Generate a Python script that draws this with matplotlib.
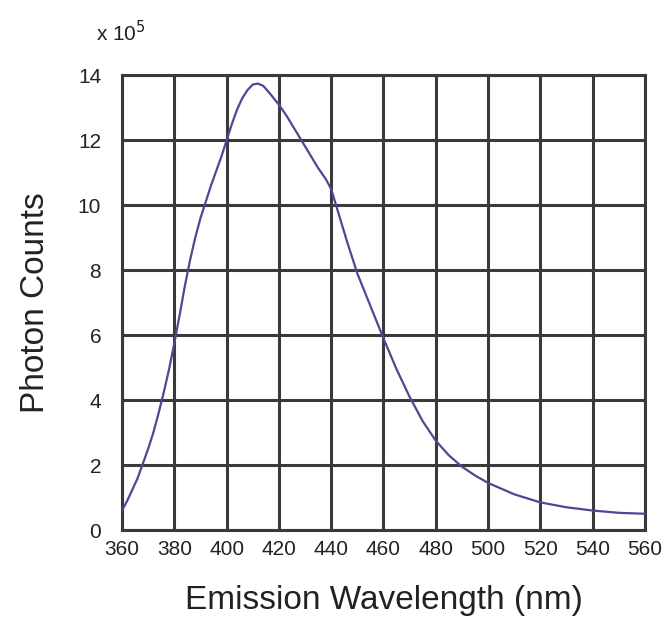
import matplotlib
matplotlib.use("Agg")
import matplotlib.pyplot as plt
import numpy as np

plt.rcParams['font.family'] = ['Liberation Sans', 'DejaVu Sans']

wavelength = [360, 362, 364, 366, 368, 370, 372, 374, 376, 378, 380, 382, 384, 386, 388, 390, 392, 394,
              396, 398, 400, 402, 404, 406, 408, 410, 412, 414, 416, 418, 420, 423, 426, 429, 432,
              435, 438, 440, 443, 446, 450, 455, 460, 465, 470, 475, 480, 485, 490,
              495, 500, 510, 520, 530, 540, 550, 560]
counts = [0.6, 0.9, 1.25, 1.6, 2.05, 2.5, 3.0, 3.6, 4.25, 4.95, 5.75, 6.6, 7.5, 8.3, 9.0, 9.6, 10.1, 10.6,
          11.05, 11.5, 12.0, 12.5, 12.95, 13.3, 13.55, 13.72, 13.75, 13.68, 13.5, 13.3, 13.1, 12.75, 12.35, 11.95, 11.55,
          11.15, 10.8, 10.5, 9.7, 8.9, 7.9, 6.9, 5.9, 4.95, 4.1, 3.35, 2.75, 2.3, 1.95,
          1.68, 1.45, 1.1, 0.85, 0.7, 0.6, 0.53, 0.5]

x_ticks = list(range(360, 561, 20))
y_ticks = list(range(0, 15, 2))

fig = plt.figure(figsize=(6.68, 6.21), dpi=100)
ax = fig.add_axes([0.1826, 0.1465, 0.783, 0.732])

ax.plot(wavelength, counts, color='#4a4a94', lw=1.6, zorder=3)

ax.set_xlim(360, 560)
ax.set_ylim(0, 14)
ax.set_xticks(x_ticks)
ax.set_yticks(y_ticks)
ax.grid(True, color='#3a3a3a', lw=2.2, zorder=1)
ax.set_axisbelow(True)
for s in ax.spines.values():
    s.set_color('#3a3a3a')
    s.set_linewidth(2.2)
ax.tick_params(length=0, labelsize=15, colors='#222222')
ax.tick_params(axis='x', pad=7)
ax.tick_params(axis='y', pad=15)

ax.set_xlabel('Emission Wavelength (nm)', fontsize=24, color='#222222', labelpad=19)
ax.set_ylabel('Photon Counts', fontsize=24, color='#222222', labelpad=19)
fig.text(0.143, 0.947, r'x 10$^5$', fontsize=15, color='#222222', ha='left', va='center')

fig.savefig('out.png', dpi=100, facecolor='white')
